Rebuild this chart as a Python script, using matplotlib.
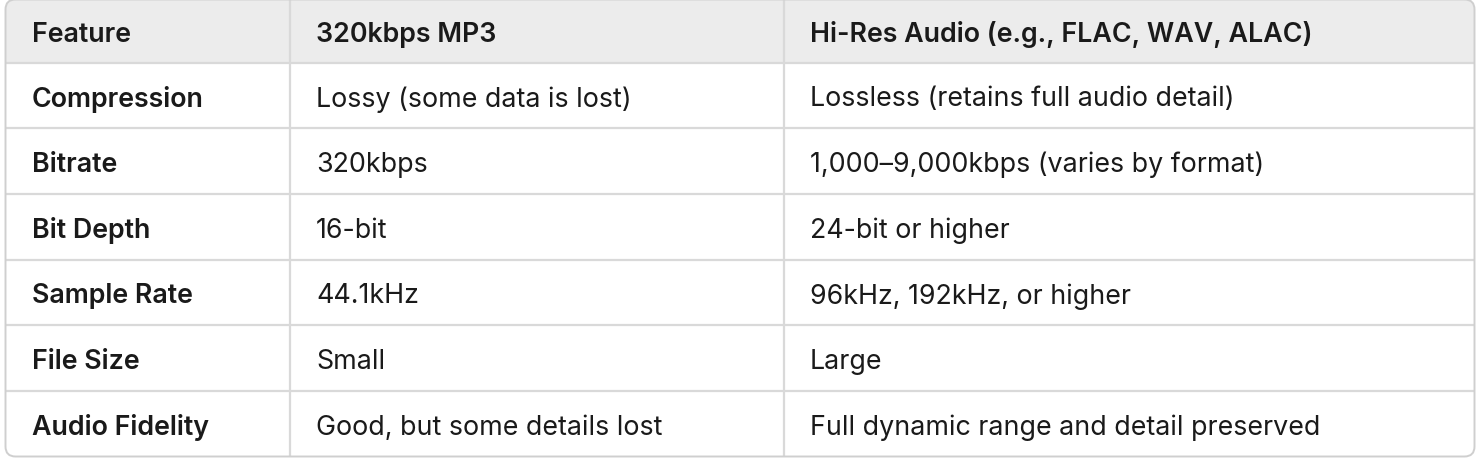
import matplotlib.pyplot as plt
from matplotlib.patches import FancyBboxPatch, Rectangle

plt.rcParams['font.family'] = ['Inter', 'DejaVu Sans']

# table content
columns = ['Feature', '320kbps MP3', 'Hi-Res Audio (e.g., FLAC, WAV, ALAC)']
features = ['Compression', 'Bitrate', 'Bit Depth', 'Sample Rate', 'File Size', 'Audio Fidelity']
mp3 = ['Lossy (some data is lost)', '320kbps', '16-bit', '44.1kHz', 'Small',
       'Good, but some details lost']
hires = ['Lossless (retains full audio detail)', '1,000\u20139,000kbps (varies by format)',
         '24-bit or higher', '96kHz, 192kHz, or higher', 'Large',
         'Full dynamic range and detail preserved']

W, H = 1482, 460
fig = plt.figure(figsize=(W / 100, H / 100), dpi=100)
ax = fig.add_axes([0, 0, 1, 1])
ax.set_xlim(0, W)
ax.set_ylim(H, 0)
ax.axis('off')

left, right, top, bottom = 5.5, 1474.5, 0.5, 457.5
header_h = 63
row_h = (bottom - top - header_h) / len(features)
col_x = [left, 290, 784, right]
pad = 26
line_col = '#d9d9d9'
txt_col = '#1a1a1a'
fs = 19.3

# header background, clipped by the rounded frame
frame = FancyBboxPatch((left, top), right - left, bottom - top,
                       boxstyle='round,pad=0,rounding_size=10',
                       facecolor='white', edgecolor='none', zorder=0)
ax.add_patch(frame)
hdr = Rectangle((left, top), right - left, header_h, facecolor='#ececec',
                edgecolor='none', zorder=1)
ax.add_patch(hdr)
hdr.set_clip_path(frame)

# horizontal lines
for i in range(len(features)):
    y = top + header_h + i * row_h
    ax.plot([left, right], [y, y], color=line_col, lw=1.6, zorder=2,
            solid_capstyle='butt')
# vertical lines
for x in col_x[1:-1]:
    ax.plot([x, x], [top, bottom], color=line_col, lw=1.6, zorder=2,
            solid_capstyle='butt')

border = FancyBboxPatch((left, top), right - left, bottom - top,
                        boxstyle='round,pad=0,rounding_size=10',
                        facecolor='none', edgecolor='#cfcfcf', lw=1.4, zorder=3)
ax.add_patch(border)

# header text
for j, c in enumerate(columns):
    ax.text(col_x[j] + pad, top + header_h / 2, c, ha='left', va='center_baseline',
            fontsize=fs, fontweight='semibold', color=txt_col, zorder=4)

# body text
for i in range(len(features)):
    yc = top + header_h + (i + 0.5) * row_h
    row = [features[i], mp3[i], hires[i]]
    for j, v in enumerate(row):
        ax.text(col_x[j] + pad, yc, v, ha='left', va='center_baseline',
                fontsize=fs, fontweight='semibold' if j == 0 else 'normal',
                color=txt_col, zorder=4)

fig.savefig('out.png', dpi=100)
